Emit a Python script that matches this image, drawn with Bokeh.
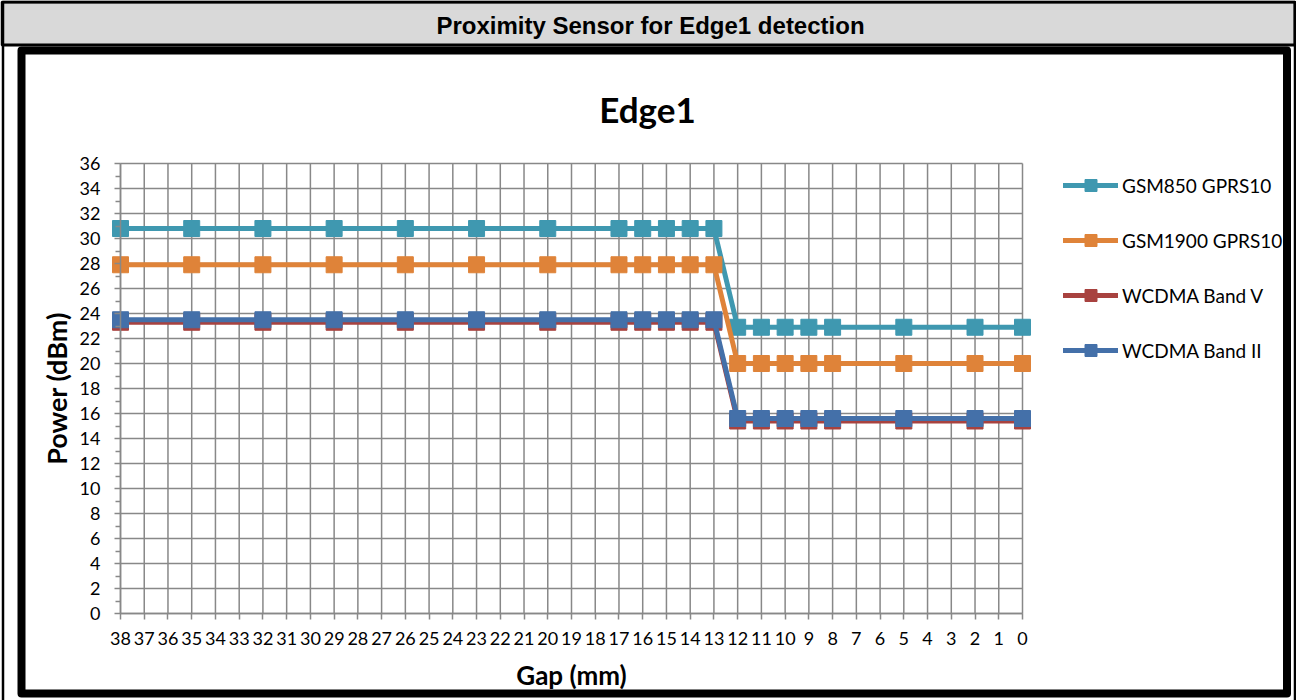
from bokeh.plotting import figure
from bokeh.models import (Range1d, FixedTicker, BoxAnnotation, Label, Legend,
                          LegendItem, ColumnDataSource)
from bokeh.embed import file_html
from bokeh.resources import INLINE

# ---------------- data ----------------
gap_mm = [38, 35, 32, 29, 26, 23, 20, 17, 16, 15, 14, 13, 12, 11, 10, 9, 8, 5, 2, 0]
gsm850 = [30.8, 30.8, 30.8, 30.8, 30.8, 30.8, 30.8, 30.8, 30.8, 30.8, 30.8, 30.8,
          22.9, 22.9, 22.9, 22.9, 22.9, 22.9, 22.9, 22.9]
gsm1900 = [27.9, 27.9, 27.9, 27.9, 27.9, 27.9, 27.9, 27.9, 27.9, 27.9, 27.9, 27.9,
           20.0, 20.0, 20.0, 20.0, 20.0, 20.0, 20.0, 20.0]
wcdma_v = [23.3, 23.3, 23.3, 23.3, 23.3, 23.3, 23.3, 23.3, 23.3, 23.3, 23.3, 23.3,
           15.4, 15.4, 15.4, 15.4, 15.4, 15.4, 15.4, 15.4]
wcdma_ii = [23.5, 23.5, 23.5, 23.5, 23.5, 23.5, 23.5, 23.5, 23.5, 23.5, 23.5, 23.5,
            15.6, 15.6, 15.6, 15.6, 15.6, 15.6, 15.6, 15.6]

series_names = ["GSM850 GPRS10", "GSM1900 GPRS10", "WCDMA Band V", "WCDMA Band II"]
series_vals = [gsm850, gsm1900, wcdma_v, wcdma_ii]
series_colors = ["#3F98B0", "#DF8339", "#A8423F", "#4470A9"]

x_ticks = list(range(0, 39))
y_ticks = [0, 2, 4, 6, 8, 10, 12, 14, 16, 18, 20, 22, 24, 26, 28, 30, 32, 34, 36]
y_minor = [1, 3, 5, 7, 9, 11, 13, 15, 17, 19, 21, 23, 25, 27, 29, 31, 33, 35]

X_MAX, X_MIN = 38, 0
Y_MIN, Y_MAX = 0, 36

# ---------------- layout (page pixels) ----------------
W, H = 1296, 700
PX_L, PX_R = 120, 1022      # pixel of x = 38 and x = 0
PY_B, PY_T = 613, 163       # pixel of y = 0 and y = 36
U = (PX_R - PX_L) / (X_MAX - X_MIN)
V = (PY_B - PY_T) / (Y_MAX - Y_MIN)


def dx(px):
    return X_MAX - (px - PX_L) / U


def dy(py):
    return Y_MIN + (PY_B - py) / V


GRID = "#888888"

p = figure(width=W, height=H, title=None,
           x_range=Range1d(dx(0), dx(W)), y_range=Range1d(dy(H), dy(0)),
           output_backend="svg", toolbar_location=None,
           min_border=0, min_border_left=0, min_border_right=0,
           min_border_top=0, min_border_bottom=0)
p.outline_line_color = None
p.background_fill_color = "white"
p.border_fill_color = "white"
p.xgrid.grid_line_color = None
p.ygrid.grid_line_color = None

# ---------------- decoration: table cell, header, chart box ----------------
p.add_layout(BoxAnnotation(left=dx(1.5), right=dx(1294.5), top=dy(1.5), bottom=dy(44.5),
                           fill_color="#D9D9D9", fill_alpha=1.0,
                           line_color="black", line_alpha=1.0, line_width=3,
                           level="underlay"))
p.add_layout(BoxAnnotation(left=dx(2.5), right=dx(1294.5), top=dy(1.5), bottom=dy(705),
                           fill_color=None, line_color="black", line_alpha=1.0,
                           line_width=2.5, level="underlay"))
p.add_layout(BoxAnnotation(left=dx(21), right=dx(1286.5), top=dy(50), bottom=dy(693),
                           fill_color=None, line_color="black", line_alpha=1.0,
                           line_width=8, line_join="round", level="underlay"))

# ---------------- grid ----------------
p.segment(x0=x_ticks, x1=x_ticks, y0=[Y_MIN] * len(x_ticks), y1=[Y_MAX] * len(x_ticks),
          line_color=GRID, line_width=1.5)
p.segment(x0=[X_MAX] * len(y_ticks), x1=[X_MIN] * len(y_ticks), y0=y_ticks, y1=y_ticks,
          line_color=GRID, line_width=1.5)

# ---------------- axes ----------------
xa = p.xaxis[0]
xa.fixed_location = Y_MIN
xa.bounds = (X_MIN, X_MAX)
xa.ticker = FixedTicker(ticks=x_ticks)
xa.axis_line_color = GRID
xa.axis_line_width = 1.5
xa.major_tick_line_color = GRID
xa.major_tick_line_width = 1.5
xa.major_tick_out = 6
xa.major_tick_in = 0
xa.minor_tick_line_color = None
xa.major_label_text_font = "Lato"
xa.major_label_text_font_size = "18px"
xa.major_label_text_color = "black"
xa.major_label_standoff = 12
xa.axis_label = "Gap (mm)"
xa.axis_label_text_font = "Lato"
xa.axis_label_text_font_style = "bold"
xa.axis_label_text_font_size = "26px"
xa.axis_label_text_color = "black"
xa.axis_label_standoff = 11

ya = p.yaxis[0]
ya.fixed_location = X_MAX
ya.bounds = (Y_MIN, Y_MAX)
ya.ticker = FixedTicker(ticks=y_ticks, minor_ticks=y_minor)
ya.axis_line_color = GRID
ya.axis_line_width = 1.5
ya.major_tick_line_color = GRID
ya.major_tick_line_width = 1.5
ya.major_tick_out = 6
ya.major_tick_in = 0
ya.minor_tick_line_color = GRID
ya.minor_tick_line_width = 1.5
ya.minor_tick_out = 5
ya.minor_tick_in = 0
ya.major_label_text_font = "Lato"
ya.major_label_text_font_size = "18px"
ya.major_label_text_color = "black"
ya.major_label_standoff = 14
ya.axis_label = "Power (dBm)"
ya.axis_label_text_font = "Lato"
ya.axis_label_text_font_style = "bold"
ya.axis_label_text_font_size = "27px"
ya.axis_label_text_color = "black"
ya.axis_label_standoff = 4

# ---------------- series ----------------
items = []
for name, vals, col in zip(series_names, series_vals, series_colors):
    src = ColumnDataSource(dict(x=gap_mm, y=vals))
    ln = p.line("x", "y", source=src, line_color=col, line_width=5,
                line_join="round", line_cap="round")
    sc = p.scatter("x", "y", source=src, marker="square", size=16,
                   fill_color=col, line_color=col)
    items.append(LegendItem(label=name, renderers=[ln, sc]))

legend = Legend(items=items, location=(1063, H - 365), glyph_width=55, glyph_height=30,
                label_height=30, spacing=25, padding=0, margin=0, label_standoff=4,
                border_line_color=None, background_fill_alpha=0,
                label_text_font="Lato", label_text_font_size="19px",
                label_text_color="black")
p.add_layout(legend)

# ---------------- titles ----------------
p.add_layout(Label(x=dx(650), y=dy(25), text="Proximity Sensor for Edge1 detection",
                   text_align="center", text_baseline="middle",
                   text_font="Liberation Sans", text_font_style="bold",
                   text_font_size="24px", text_color="black"))
p.add_layout(Label(x=dx(647), y=dy(108), text="Edge1",
                   text_align="center", text_baseline="middle",
                   text_font="Lato", text_font_style="bold",
                   text_font_size="35px", text_color="black"))

open("out.html", "w").write(file_html(p, INLINE))
